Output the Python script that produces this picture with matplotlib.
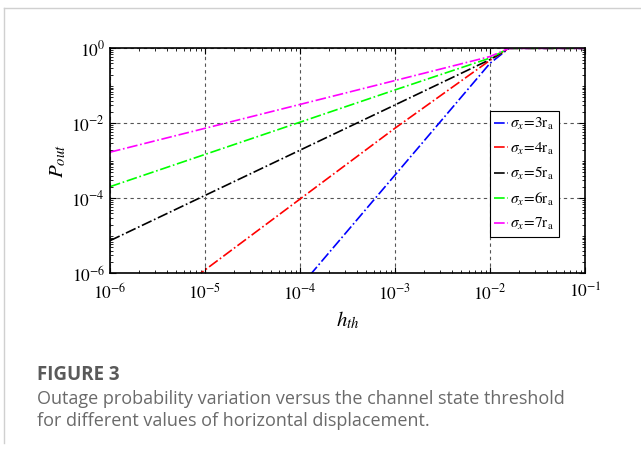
import numpy as np
import matplotlib
matplotlib.use('Agg')
import matplotlib.pyplot as plt
from matplotlib.ticker import LogLocator, NullFormatter, FuncFormatter
from matplotlib.lines import Line2D

# threshold values where the curves were read
h_th = [1e-6, 1e-3, 1e-2, 10**-1.8, 1e-1]

# log10 of outage probability
logp_s3 = [-12.32, -3.38, -0.40, 0.0, 0.0]
logp_s4 = [-7.80, -2.13, -0.32, 0.0, 0.0]
logp_s5 = [-5.13, -1.51, -0.30, 0.0, 0.0]
logp_s6 = [-3.69, -1.11, -0.26, 0.0, 0.0]
logp_s7 = [-2.77, -0.86, -0.22, 0.0, 0.0]

labels = [r'$\sigma_x\!=\!3\mathrm{r}_\mathrm{a}$', r'$\sigma_x\!=\!4\mathrm{r}_\mathrm{a}$',
          r'$\sigma_x\!=\!5\mathrm{r}_\mathrm{a}$', r'$\sigma_x\!=\!6\mathrm{r}_\mathrm{a}$',
          r'$\sigma_x\!=\!7\mathrm{r}_\mathrm{a}$']
colors = ['#0000ff', '#ff0000', '#000000', '#00ff00', '#ff00ff']

plt.rcParams['mathtext.fontset'] = 'stix'
plt.rcParams['font.family'] = 'Liberation Serif'


def pow_label(v, pos):
    e = int(round(np.log10(v)))
    return r'$\mathrm{10}^{\mathrm{%s}}$' % ('-%d' % -e if e < 0 else '%d' % e)


fig = plt.figure(figsize=(6.41, 4.49), dpi=100)

# page border (top and left edge of the card)
fig.add_artist(Line2D([4/641, 1], [1-8/449, 1-8/449], color='#d0d0d0', lw=1))
fig.add_artist(Line2D([4/641, 4/641], [1-8/449, 1-443/449], color='#d0d0d0', lw=1))

ax = fig.add_axes([110/641, 1-273.3/449, 475/641, 225/449])
series = [logp_s3, logp_s4, logp_s5, logp_s6, logp_s7]
for lp, c, lab in zip(series, colors, labels):
    ax.plot(h_th, 10**np.array(lp), color=c, ls='-.', lw=1.2, label=lab)

ax.set_xscale('log')
ax.set_yscale('log')
ax.set_xlim(1e-6, 1e-1)
ax.set_ylim(1e-6, 1)
ax.set_xticks([1e-6, 1e-5, 1e-4, 1e-3, 1e-2, 1e-1])
ax.set_yticks([1e-6, 1e-4, 1e-2, 1e0])
ax.xaxis.set_major_formatter(FuncFormatter(pow_label))
ax.yaxis.set_major_formatter(FuncFormatter(pow_label))
ax.xaxis.set_minor_locator(LogLocator(base=10, subs=np.arange(2, 10), numticks=20))
ax.yaxis.set_minor_locator(LogLocator(base=10, subs=np.arange(1, 10), numticks=20))
ax.xaxis.set_minor_formatter(NullFormatter())
ax.yaxis.set_minor_formatter(NullFormatter())
ax.tick_params(which='both', direction='in', top=True, right=True, labelsize=12.5)
ax.tick_params(which='major', length=4, width=0.8)
ax.tick_params(which='minor', length=2.5, width=0.6)
ax.tick_params(axis='x', which='major', pad=7)
for sp in ax.spines.values():
    sp.set_linewidth(1.2)
ax.grid(True, which='major', ls=(0, (3, 3)), color='#555555', lw=0.8)

ax.set_xlabel(r'$h_{th}$', fontsize=15, labelpad=5)
ax.set_ylabel(r'$P_{out}$', fontsize=15, labelpad=2)

leg = ax.legend(loc='center right', bbox_to_anchor=(0.945, 0.441), fontsize=11,
                handlelength=0.9, handletextpad=0.15, borderpad=0.3, labelspacing=0.55,
                borderaxespad=0, fancybox=False, framealpha=1, edgecolor='black')
leg.get_frame().set_linewidth(0.8)

fig.text(37/641, 1-375/449, 'FIGURE 3', fontsize=13.5, fontweight='bold', color='#5a5a5a',
         family='Open Sans', va='center')
fig.text(37/641, 1-399/449, 'Outage probability variation versus the channel state threshold',
         fontsize=13, color='#6a6a6a', family='Open Sans', va='center')
fig.text(37/641, 1-421/449, 'for different values of horizontal displacement.',
         fontsize=13, color='#6a6a6a', family='Open Sans', va='center')

fig.savefig('out.png', dpi=100)
